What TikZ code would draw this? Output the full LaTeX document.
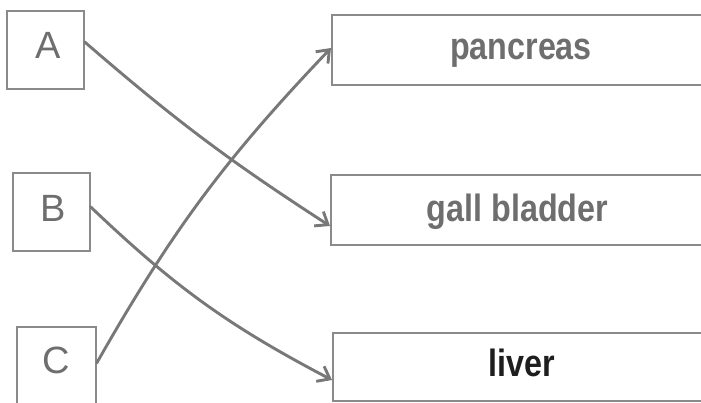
\documentclass[tikz,border=0pt]{standalone}
\usepackage{fontspec}
\setmainfont{Liberation Sans}
\usetikzlibrary{arrows.meta}
\definecolor{boxgray}{HTML}{8A8A8A}
\definecolor{linegray}{HTML}{787878}
\definecolor{txtgray}{HTML}{6E6E6E}
\definecolor{txtdark}{HTML}{1E1E1E}
\tikzset{
  box/.style={draw=boxgray, line width=1.5pt, inner sep=0pt, fill=none},
  letter/.style={anchor=base, text=txtgray, inner sep=0pt, font=\fontsize{38}{40}\selectfont},
  organ/.style={anchor=base, inner sep=0pt, font=\fontsize{38}{40}\selectfont\bfseries},
  link/.style={draw=linegray, line width=2.9pt, line cap=round,
    -{Straight Barb[length=11pt,width=17pt,line width=2.9pt]}}
}
\begin{document}
\begin{tikzpicture}[x=1pt,y=1pt]
\useasboundingbox (0,0) rectangle (701,403);
\clip (0,0) rectangle (701,403);
% left boxes
\node[box, minimum width=77pt, minimum height=78pt] (A) at (45.5,353) {};
\node[box, minimum width=77pt, minimum height=78pt] (B) at (51.5,191) {};
\node[box, minimum width=79pt, minimum height=106pt] (C) at (56.5,23) {};
% right boxes (run past the right edge)
\node[box, anchor=west, minimum width=420pt, minimum height=70pt] (P) at (331,353) {};
\node[box, anchor=west, minimum width=420pt, minimum height=70pt] (G) at (330,193) {};
\node[box, anchor=west, minimum width=420pt, minimum height=68pt] (L) at (332,36) {};
% texts
\node[letter] (tA) at (48,344) {A};
\node[letter] (tB) at (53.5,181) {B};
\node[letter] (tC) at (56,29) {C};
\node[organ, text=txtgray] (tP) at (521,343) {\scalebox{0.85}[1]{pancreas}};
\node[organ, text=txtgray] (tG) at (517.5,181) {\scalebox{0.85}[1]{gall bladder}};
\node[organ, text=txtdark] (tL) at (522,26) {\scalebox{0.85}[1]{liver}};
% connectors
\draw[link] ([yshift=8pt]A.east) to[bend right=4] ([yshift=-16pt]G.west);
\draw[link] ([yshift=5pt]B.east) to[bend right=8] ([yshift=-13pt]L.west);
\draw[link] ([yshift=17pt]C.east) to[bend left=7] ([yshift=2pt]P.west);
\end{tikzpicture}
\end{document}
